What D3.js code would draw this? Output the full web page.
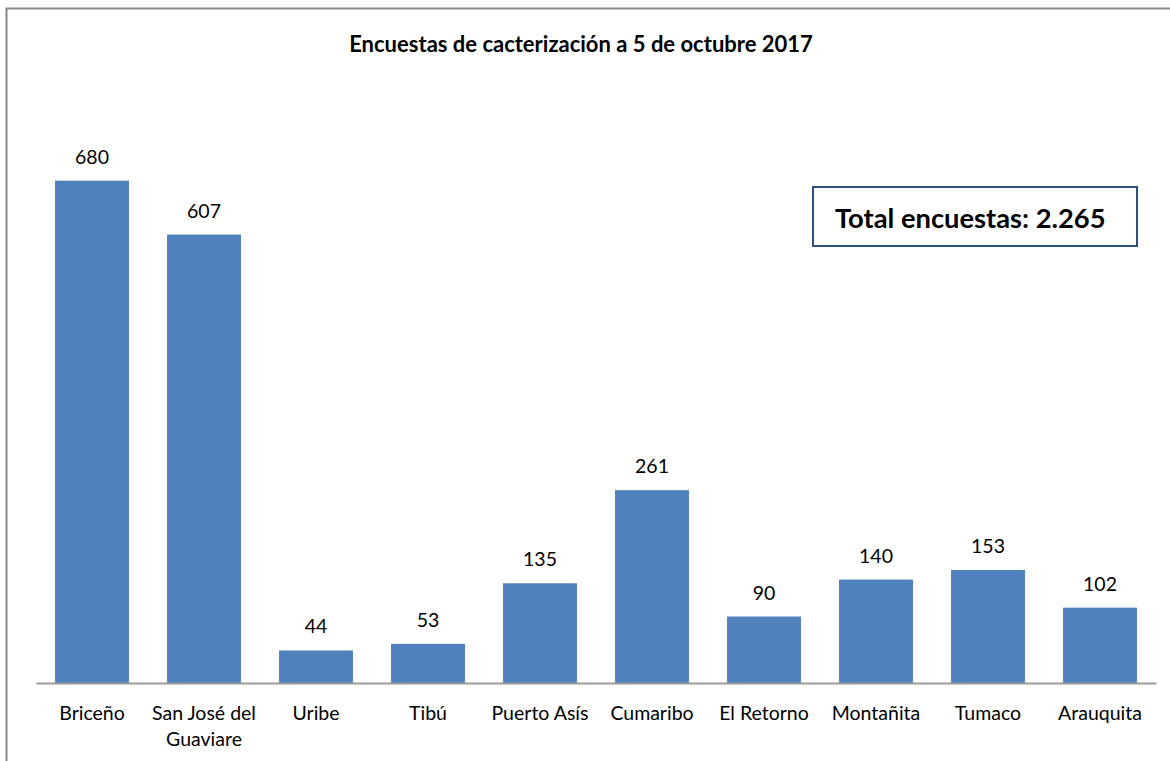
<!DOCTYPE html>
<html>
    <head>
        <meta charset="utf-8">
        <title>Encuestas de cacterización</title>
        <script src="https://d3js.org/d3.v7.min.js"></script>
    </head>

    <body>
        <div id="root"></div>
    </body>

    <style>
body {
    margin: 0;
    background: #fff;
}
svg {
    display: block;
    font-family: Lato, "Open Sans", sans-serif;
}
    </style>

    <script>
        let municipios = ['Briceño', 'San José del Guaviare', 'Uribe', 'Tibú', 'Puerto Asís',
                          'Cumaribo', 'El Retorno', 'Montañita', 'Tumaco', 'Arauquita'];
        let encuestas = [680, 607, 44, 53, 135, 261, 90, 140, 153, 102];
        let titulo = 'Encuestas de cacterización a 5 de octubre 2017';
        let total_texto = 'Total encuestas: 2.265';

        let render_chart = () => {
            let width = 1170;
            let height = 761;
            let plot = { left: 36, right: 1156, top: 92, bottom: 683 };

            let blue = '#4f81bd';

            let svg = d3.select('#root').html('')
                .append('svg')
                .attr('width', width)
                .attr('height', height);

            // chart frame (only left and top edges are visible in the crop)
            svg.append('path')
                .attr('d', `M6.5,${height} V8.5 H${width}`)
                .attr('fill', 'none')
                .attr('stroke', '#888')
                .attr('stroke-width', 2);

            let scale_x = d3.scaleBand()
                .domain(municipios)
                .range([plot.left, plot.right])
                .paddingInner(0.34)
                .paddingOuter(0.17);
            let scale_y = d3.scaleLinear().domain([0, 800]).range([plot.bottom, plot.top]);

            let data = municipios.map((m, i) => ({ name: m, value: encuestas[i] }));

            svg.append('g')
                .selectAll('rect')
                .data(data)
                .join('rect')
                .attr('x', d => scale_x(d.name))
                .attr('y', d => scale_y(d.value))
                .attr('width', scale_x.bandwidth())
                .attr('height', d => scale_y(0) - scale_y(d.value))
                .attr('fill', blue);

            svg.append('g')
                .selectAll('text')
                .data(data)
                .join('text')
                .attr('x', d => scale_x(d.name) + scale_x.bandwidth() / 2)
                .attr('y', d => scale_y(d.value) - 17)
                .attr('text-anchor', 'middle')
                .attr('font-size', 19.5)
                .attr('fill', '#000')
                .text(d => d.value);

            let axis = svg.append('g')
                .attr('transform', `translate(0, ${plot.bottom})`)
                .call(d3.axisBottom(scale_x).tickSize(0).tickPadding(0));
            axis.select('.domain')
                .attr('stroke', '#999')
                .attr('stroke-width', 2);
            axis.selectAll('.tick text')
                .attr('font-size', 19.5)
                .attr('font-family', 'Lato, "Open Sans", sans-serif')
                .attr('fill', '#000')
                .attr('dy', null)
                .attr('y', 37)
                .each(function (d) {
                    let t = d3.select(this);
                    if (d === 'San José del Guaviare') {
                        t.text(null);
                        t.append('tspan').attr('x', 0).text('San José del');
                        t.append('tspan').attr('x', 0).attr('dy', 26).text('Guaviare');
                    }
                });

            svg.append('text')
                .attr('x', 581)
                .attr('y', 52)
                .attr('text-anchor', 'middle')
                .attr('font-size', 22)
                .attr('font-weight', 'bold')
                .text(titulo);

            svg.append('rect')
                .attr('x', 813)
                .attr('y', 187)
                .attr('width', 324)
                .attr('height', 59)
                .attr('fill', '#fff')
                .attr('stroke', '#2c4f82')
                .attr('stroke-width', 2);
            svg.append('text')
                .attr('x', 835)
                .attr('y', 228)
                .attr('font-size', 27.3)
                .attr('font-weight', 'bold')
                .text(total_texto);
        };

        render_chart();
    </script>
</html>
